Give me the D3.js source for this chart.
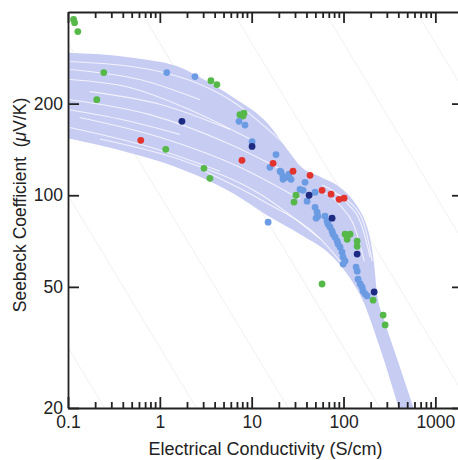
<!DOCTYPE html>
<html>
<head>
<meta charset="utf-8">
<script src="https://cdn.jsdelivr.net/npm/d3@7"></script>
<style>
    body { margin: 0; background: #fff; }
    svg text { font-family: "Liberation Sans", Arial, sans-serif; fill: #222; }
    .axis path, .axis line { stroke: #222; stroke-width: 1.8; }
    .axis text { font-size: 17.5px; }
</style>
</head>
<body>
<svg id="chart" width="458" height="460"></svg>
<script>
// tick values
const xTicks = [0.1, 1, 10, 100, 1000];
const yTicks = [20, 50, 100, 200];
// iso power-factor guide lines, uW/(m K^2)
const pfLevels = [0.01, 0.1, 1, 10, 100, 1000, 10000];

// envelope of the model curve bundle [sigma S/cm, S uV/K]
const bandUpper = [[0.1, 294], [0.507, 283], [1.78, 261], [2.73, 244], [6.25, 210], [14.7, 173],
    [26, 138], [33.6, 125], [55.6, 115], [91.8, 106], [141, 92], [172, 82], [195, 72],
    [216, 59], [232, 47.4], [277, 39], [384, 29], [614, 19]];
const bandLower = [[0.1, 154], [0.222, 146], [0.507, 137], [1.19, 127], [2.73, 115], [6.25, 101.5],
    [14.7, 86], [33.6, 74.5], [77, 62.6], [118, 53.4], [159.5, 45.6], [251, 31.3], [419, 19]];

// thin white gaps between individual curves of the bundle
const gapLines = [
    [[0.104, 275], [0.778, 259], [5.8, 206], [26.2, 141.5]],
    [[0.104, 259], [0.605, 240], [2.73, 206]],
    [[0.104, 240], [0.471, 226], [2.12, 191], [9.58, 153]],
    [[0.172, 219], [1, 199], [5.8, 164.5]],
    [[0.104, 206], [0.778, 184], [5.8, 147], [20.4, 122]],
    [[0.104, 191], [0.366, 178], [1.65, 158.5]],
    [[0.134, 180], [1, 155], [7.45, 123.5], [33.6, 97]],
    [[0.104, 167], [0.778, 144], [4.51, 120]],
    [[0.222, 153], [1.65, 131], [12.3, 101], [55.6, 72]],
    [[2.73, 122], [12.3, 97], [55.6, 72], [104, 58]],
    [[58.4, 108], [104, 95.6], [160, 78.5], [195, 62.6]],
    [[49, 104.6], [91.8, 92.7], [137, 76.2], [168, 60.8]],
    [[71.4, 102.3], [124, 93.4], [176, 76.2], [205, 60.8]],
];

// measured samples
const greenPts = [[0.115, 378], [0.118, 369], [0.128, 345], [0.245, 253], [0.206, 206], [3.6, 238],
    [4.18, 231], [1.16, 141.5], [3.02, 122.6], [3.51, 113.7], [7.45, 184], [8.24, 186], [8.04, 182],
    [30.4, 100], [28.9, 95], [104, 74.5], [118, 74.5], [109.5, 71.7], [140.7, 70.7], [140.7, 68],
    [210, 45.2], [58.4, 51.1], [270, 40.4], [284, 37.5]];
const bluePts = [[1.19, 253], [2.41, 245.5], [7.27, 175], [8.45, 170], [10.1, 150], [18.4, 136],
    [15.8, 123.5], [15.1, 81.6], [20.9, 119], [21.95, 115.4], [23.7, 114.5], [25.5, 117.2],
    [26.8, 112.8], [21.95, 112.8], [20.4, 120], [38.1, 110.3], [33.6, 104.6], [36.3, 103.8],
    [49, 102.3], [40.1, 95.6], [49, 91.3], [51.5, 88], [52.8, 85.3], [50.3, 84.1], [63, 85.3],
    [66.3, 82.2], [67.9, 80.3], [71.4, 78.5], [75.1, 76.2], [77, 74.5], [81, 72.8], [85.2, 70.7],
    [87.3, 69.1], [91.8, 67.5], [96.5, 65], [99, 62.6], [104, 60.8], [99, 59.4], [137, 58.1],
    [141, 56.3], [144, 53], [152, 51.1], [159.5, 49.9], [163.6, 48.4], [172, 47.4], [181, 46.7]];
const navyPts = [[1.74, 175], [10.1, 144.7], [42.2, 100], [75.1, 84.1], [140.7, 64.1], [215.6, 48.1]];
const redPts = [[0.62, 151.5], [7.84, 130.2], [17.1, 127.3], [28.2, 120], [43.2, 116.3],
    [58.4, 103.8], [73.2, 100.8], [89.5, 97], [101.5, 97.8]];

const margin = {left: 68, top: 12, right: 463, bottom: 408};

const svg = d3.select('#chart');

const x = d3.scaleLog()
    .domain([0.1, 2000])
    .range([margin.left, margin.right]);

const y = d3.scaleLog()
    .domain([20, 400])
    .range([margin.bottom, margin.top]);

svg.append('clipPath')
    .attr('id', 'plot-clip')
  .append('rect')
    .attr('x', margin.left)
    .attr('y', margin.top)
    .attr('width', margin.right - margin.left)
    .attr('height', margin.bottom - margin.top);

const plot = svg.append('g').attr('clip-path', 'url(#plot-clip)');

// iso power-factor lines: S^2 * sigma * 1e-4 = PF
plot.append('g')
    .selectAll('line')
    .data(pfLevels)
  .enter().append('line')
    .attr('x1', d => x(d * 1e4 / (420 * 420)))
    .attr('y1', y(420))
    .attr('x2', d => x(d * 1e4 / (19 * 19)))
    .attr('y2', y(19))
    .attr('stroke', '#f0f0f0')
    .attr('stroke-width', 1);

const curve = d3.line()
    .x(d => x(d[0]))
    .y(d => y(d[1]))
    .curve(d3.curveMonotoneX);

const bandPath = curve(bandUpper) + curve(bandLower.slice().reverse()).replace(/^M/, 'L') + 'Z';

plot.append('path')
    .attr('d', bandPath)
    .attr('fill', '#c7ccf3');

plot.append('g')
    .selectAll('path')
    .data(gapLines)
  .enter().append('path')
    .attr('d', curve)
    .attr('fill', 'none')
    .attr('stroke', '#fff')
    .attr('stroke-width', 1.1)
    .attr('stroke-opacity', 0.75);

const groups = [
    {pts: greenPts, color: '#55b848'},
    {pts: bluePts, color: '#6b9be2'},
    {pts: navyPts, color: '#1d2b82'},
    {pts: redPts, color: '#e2332d'},
];

groups.forEach(g => {
    svg.append('g')
        .selectAll('circle')
        .data(g.pts)
      .enter().append('circle')
        .attr('cx', d => x(d[0]))
        .attr('cy', d => y(d[1]))
        .attr('r', 3.4)
        .attr('fill', g.color);
});

// axes, ticks pointing inward
const fmt = d3.format('~g');

svg.append('g')
    .attr('class', 'axis')
    .attr('transform', 'translate(0,' + margin.bottom + ')')
    .call(d3.axisBottom(x).tickValues(xTicks).tickFormat(fmt).tickSize(-11).tickSizeOuter(0).tickPadding(8));

svg.append('g')
    .attr('class', 'axis')
    .attr('transform', 'translate(0,' + margin.top + ')')
    .call(d3.axisTop(x).tickValues(xTicks).tickFormat('').tickSize(-11).tickSizeOuter(0));

svg.append('g')
    .attr('class', 'axis')
    .attr('transform', 'translate(' + margin.left + ',0)')
    .call(d3.axisLeft(y).tickValues(yTicks).tickFormat(fmt).tickSize(-11).tickSizeOuter(0).tickPadding(5));

svg.append('g')
    .attr('class', 'axis')
    .attr('transform', 'translate(' + margin.right + ',0)')
    .call(d3.axisRight(y).tickValues(yTicks).tickFormat('').tickSize(-11).tickSizeOuter(0));

const minorX = [];
xTicks.slice(0, -1).forEach(t => {
    for (let k = 2; k <= 9; k++) minorX.push(t * k);
});

const minor = svg.append('g').attr('class', 'axis');
minor.selectAll('line.bottom')
    .data(minorX)
  .enter().append('line')
    .attr('class', 'bottom')
    .attr('x1', d => x(d)).attr('x2', d => x(d))
    .attr('y1', margin.bottom).attr('y2', margin.bottom - 6);
minor.selectAll('line.top')
    .data(minorX)
  .enter().append('line')
    .attr('class', 'top')
    .attr('x1', d => x(d)).attr('x2', d => x(d))
    .attr('y1', margin.top).attr('y2', margin.top + 6);

svg.append('text')
    .attr('x', (margin.left + margin.right) / 2)
    .attr('y', 455)
    .attr('text-anchor', 'middle')
    .style('font-size', '18px')
    .text('Electrical Conductivity (S/cm)');

const yTitle = svg.append('text')
    .attr('transform', 'translate(26,' + 205 + ') rotate(-90)')
    .attr('text-anchor', 'middle')
    .style('font-size', '17.5px')
    .attr('xml:space', 'preserve');
yTitle.append('tspan').text('Seebeck Coefficient  (');
yTitle.append('tspan').style('font-style', 'italic').text('\u03bc');
yTitle.append('tspan').text('V/K)');
</script>
</body>
</html>
